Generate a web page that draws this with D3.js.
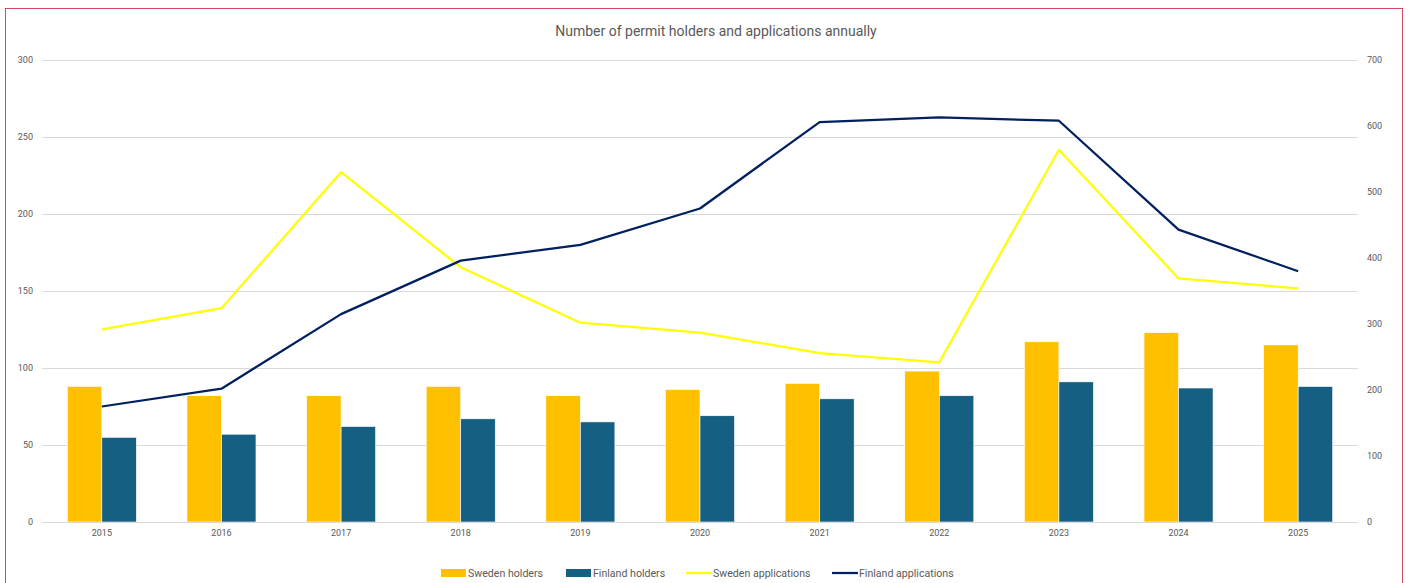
<!DOCTYPE html>
<html>
<head>
<meta charset="utf-8">
<script src="https://cdn.jsdelivr.net/npm/d3@7"></script>
<style>
  html, body { margin: 0; padding: 0; background: #fff; }
  svg { display: block; }
</style>
</head>
<body>
<svg id="chart" width="1410" height="583"></svg>
<script>
const years = ["2015","2016","2017","2018","2019","2020","2021","2022","2023","2024","2025"];
const swedenHolders = [88, 82, 82, 88, 82, 86, 90, 98, 117, 123, 115];
const finlandHolders = [55, 57, 62, 67, 65, 69, 80, 82, 91, 87, 88];
const swedenApplications = [292, 324, 530, 386, 302, 287, 256, 242, 564, 369, 354];
const finlandApplications = [175, 202, 315, 396, 420, 475, 606, 613, 608, 443, 380];
const leftTicks = [0, 50, 100, 150, 200, 250, 300];
const rightTicks = [0, 100, 200, 300, 400, 500, 600, 700];
const seriesNames = ["Sweden holders", "Finland holders", "Sweden applications", "Finland applications"];
const colors = { "Sweden holders": "#FFC000", "Finland holders": "#156082", "Sweden applications": "#FFFF00", "Finland applications": "#002060" };

(function () {
const svg = d3.select("#chart");
const font = "Roboto, 'Liberation Sans', Arial, sans-serif";

// border
svg.append("rect").attr("x", 5.5).attr("y", 8.5).attr("width", 1397).attr("height", 600)
  .attr("fill", "#fff").attr("stroke", "#D0475F").attr("stroke-width", 1);

const pLeft = 42, pRight = 1358, pTop = 60, pBottom = 522;

const x0 = d3.scaleBand().domain(years).range([pLeft, pRight]).padding(0);
const x1 = d3.scaleBand().domain(["Sweden holders", "Finland holders"]).range([0, x0.bandwidth()]).paddingInner(0).paddingOuter(0.733);
const yL = d3.scaleLinear().domain([0, 300]).range([pBottom, pTop]);
const yR = d3.scaleLinear().domain([0, 700]).range([pBottom, pTop]);

// gridlines
svg.append("g").selectAll("line").data(leftTicks).join("line")
  .attr("x1", pLeft).attr("x2", pRight)
  .attr("y1", d => Math.round(yL(d)) + 0.5).attr("y2", d => Math.round(yL(d)) + 0.5)
  .attr("stroke", "#D9D9D9").attr("stroke-width", 1);

// left axis
const axL = d3.axisLeft(yL).tickValues(leftTicks).tickSize(0).tickPadding(0);
const gL = svg.append("g").attr("transform", `translate(33,0)`).call(axL);
gL.select(".domain").remove();
gL.selectAll("text").attr("font-family", font).attr("font-size", 9).attr("fill", "#595959").attr("x", 0);

// right axis
const axR = d3.axisRight(yR).tickValues(rightTicks).tickSize(0).tickPadding(0);
const gR = svg.append("g").attr("transform", `translate(1367,0)`).call(axR);
gR.select(".domain").remove();
gR.selectAll("text").attr("font-family", font).attr("font-size", 9).attr("fill", "#595959").attr("x", 0);

// bottom axis
const axB = d3.axisBottom(x0).tickSize(0).tickPadding(0);
const gB = svg.append("g").attr("transform", `translate(0,${pBottom + 8})`).call(axB);
gB.select(".domain").remove();
gB.selectAll("text").attr("font-family", font).attr("font-size", 9).attr("fill", "#595959");

// bars
const barData = [];
years.forEach((yr, i) => {
  barData.push({ year: yr, key: "Sweden holders", value: swedenHolders[i] });
  barData.push({ year: yr, key: "Finland holders", value: finlandHolders[i] });
});
svg.append("g").selectAll("rect").data(barData).join("rect")
  .attr("x", d => x0(d.year) + x1(d.key))
  .attr("y", d => yL(d.value))
  .attr("width", x1.bandwidth())
  .attr("height", d => yL(0) - yL(d.value))
  .attr("fill", d => colors[d.key])
  .attr("stroke", "#ffffff").attr("stroke-width", 0.6);

// baseline
svg.append("line").attr("x1", pLeft).attr("x2", pRight).attr("y1", pBottom + 0.5).attr("y2", pBottom + 0.5)
  .attr("stroke", "#D9D9D9").attr("stroke-width", 1);

// lines
const xc = d => x0(d) + x0.bandwidth() / 2;
const lineGen = d3.line().x((d, i) => xc(years[i])).y(d => yR(d));
svg.append("path").datum(swedenApplications).attr("d", lineGen)
  .attr("fill", "none").attr("stroke", colors["Sweden applications"]).attr("stroke-width", 2.25).attr("stroke-linejoin", "round");
svg.append("path").datum(finlandApplications).attr("d", lineGen)
  .attr("fill", "none").attr("stroke", colors["Finland applications"]).attr("stroke-width", 2.25).attr("stroke-linejoin", "round");

// title
svg.append("text").attr("x", 716).attr("y", 36).attr("text-anchor", "middle")
  .attr("font-family", font).attr("font-size", 14).attr("fill", "#595959")
  .text("Number of permit holders and applications annually");

// legend
const legendX = [441, 566, 686, 832];
const lg = svg.append("g");
seriesNames.forEach((name, i) => {
  const gx = legendX[i];
  if (i < 2) {
    lg.append("rect").attr("x", gx).attr("y", 569).attr("width", 25).attr("height", 8).attr("fill", colors[name]);
  } else {
    lg.append("line").attr("x1", gx).attr("x2", gx + 26).attr("y1", 573).attr("y2", 573)
      .attr("stroke", colors[name]).attr("stroke-width", 2.25);
  }
  lg.append("text").attr("x", gx + 27).attr("y", 577).attr("font-family", font).attr("font-size", 10.6)
    .attr("fill", "#595959").text(name);
});
})();
</script>
</body>
</html>
